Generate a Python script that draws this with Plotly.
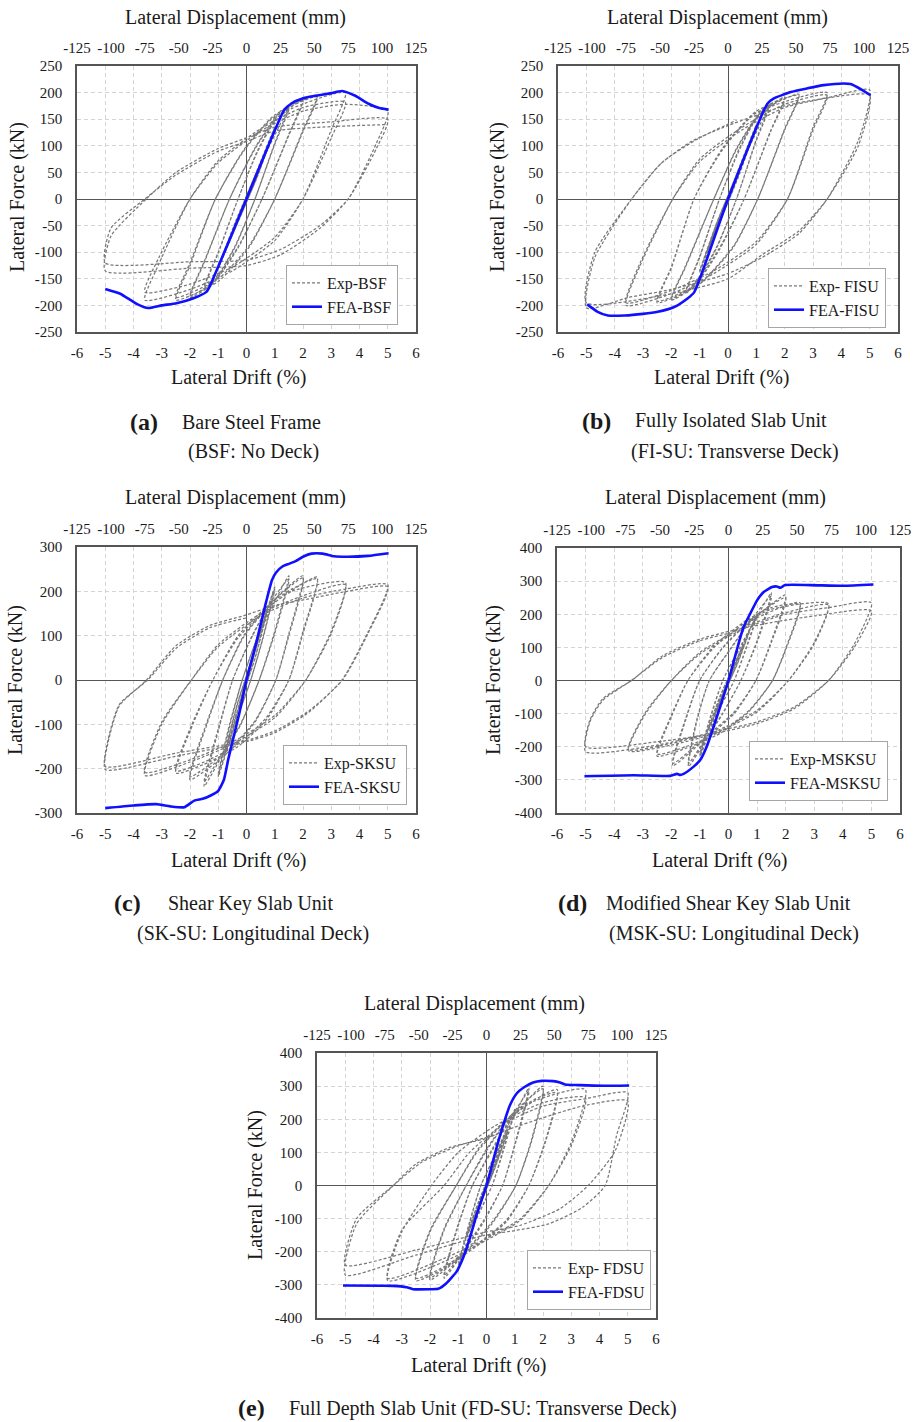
import plotly.graph_objects as go

W, H = 920, 1422
FONT = "Liberation Serif"
TXT = "#1a1a1a"

# ---------------- data (drift %, force kN) ----------------
DRIFT_TICKS = [-6, -5, -4, -3, -2, -1, 0, 1, 2, 3, 4, 5, 6]
DISP_TICKS = [-125, -100, -75, -50, -25, 0, 25, 50, 75, 100, 125]
Y_TICKS_250 = [-250, -200, -150, -100, -50, 0, 50, 100, 150, 200, 250]
Y_TICKS_300 = [-300, -200, -100, 0, 100, 200, 300]
Y_TICKS_400 = [-400, -300, -200, -100, 0, 100, 200, 300, 400]

EXP_A = [(0, 0),
    (0.25, 35), (0.0, 2), (-0.25, -33), (0.0, -2), (0.25, 34), (0.0, 2), (-0.25, -33), (0.0, -2),
    (0.5, 65), (0.05, 6), (-0.5, -63), (-0.05, -6), (0.5, 64), (0.05, 6), (-0.5, -62), (-0.05, -6),
    (0.75, 100), (0.15, 15), (-0.75, -97), (-0.15, -15), (0.75, 98), (0.15, 15), (-0.75, -95), (-0.15, -15),
    (1.0, 135), (0.4, 45), (0.05, 0), (-0.5, -68), (-1.0, -130), (-0.4, -45), (-0.05, 0), (0.5, 68),
    (1.0, 133), (0.4, 44), (0.05, 0), (-0.5, -66), (-1.0, -128), (-0.4, -44), (-0.05, 0), (0.5, 66),
    (1.5, 172), (1.0, 105), (0.3, 0), (-0.4, -90), (-1.0, -145), (-1.5, -168), (-1.0, -102), (-0.3, 0), (0.4, 92), (1.0, 148),
    (1.5, 170), (1.0, 103), (0.3, 0), (-0.4, -88), (-1.0, -142), (-1.5, -165), (-1.0, -100), (-0.3, 0), (0.4, 90), (1.0, 145),
    (2.0, 188), (1.5, 122), (0.55, 0), (-0.3, -92), (-1.2, -160), (-2.0, -185), (-1.5, -120), (-0.6, 0), (0.3, 96), (1.2, 165),
    (2.0, 186), (1.5, 120), (0.55, 0), (-0.3, -90), (-1.2, -157), (-2.0, -182), (-1.5, -118), (-0.6, 0), (0.3, 94), (1.2, 162),
    (2.5, 195), (2.0, 130), (1.0, 0), (0.1, -90), (-1.0, -155), (-2.5, -190), (-2.0, -125), (-1.1, 0), (-0.1, 92), (1.0, 158),
    (2.5, 192), (2.0, 127), (1.0, 0), (0.1, -87), (-1.0, -150), (-2.5, -185), (-2.0, -120), (-1.1, 0), (-0.1, 90), (1.0, 155),
    (3.5, 200), (3.0, 130), (2.0, 0), (1.0, -78), (-0.5, -135), (-2.0, -170), (-3.6, -190), (-3.1, -122), (-2.0, 0), (-1.0, 72), (0.5, 132), (2.0, 172),
    (3.5, 182), (3.0, 115), (2.0, 0), (1.0, -72), (-0.5, -128), (-2.0, -160), (-3.6, -175), (-3.1, -110), (-2.0, 0), (-1.0, 68), (0.5, 128), (2.0, 165), (3.5, 178),
    (5.0, 165), (4.6, 105), (3.6, 0), (2.6, -55), (1.2, -105), (0.0, -125), (-2.0, -130), (-5.0, -135),
    (-4.8, -70), (-3.55, 0), (-2.5, 50), (-1.0, 95), (0.0, 115), (1.0, 135), (3.0, 145), (5.0, 150),
    (4.6, 95), (3.6, 0), (2.6, -50), (1.2, -95), (0.0, -115), (-2.0, -118), (-5.0, -120),
    (-4.8, -55), (-3.6, 0), (-2.5, 45), (-1.0, 90), (0.0, 108), (1.0, 128), (3.0, 136), (5.0, 140)]

EXP_B = [(0, 0),
    (0.25, 36), (0.0, 2), (-0.25, -35), (0.0, -2), (0.25, 35), (0.0, 2), (-0.25, -34), (0.0, -2),
    (0.5, 70), (0.05, 6), (-0.5, -68), (-0.05, -6), (0.5, 69), (0.05, 6), (-0.5, -67), (-0.05, -6),
    (0.75, 105), (0.15, 15), (-0.75, -102), (-0.15, -15), (0.75, 103), (0.15, 15), (-0.75, -100), (-0.15, -15),
    (1.0, 140), (0.4, 48), (0.05, 0), (-0.5, -70), (-1.0, -138), (-0.4, -46), (-0.05, 0), (0.5, 70),
    (1.0, 138), (0.4, 46), (0.05, 0), (-0.5, -69), (-1.0, -135), (-0.4, -45), (-0.05, 0), (0.5, 69),
    (1.5, 180), (1.0, 112), (0.3, 0), (-0.4, -92), (-1.0, -148), (-1.5, -178), (-1.0, -110), (-0.3, 0), (0.4, 95), (1.0, 152),
    (1.5, 178), (1.0, 110), (0.3, 0), (-0.4, -90), (-1.0, -145), (-1.5, -175), (-1.0, -108), (-0.3, 0), (0.4, 92), (1.0, 150),
    (2.0, 192), (1.5, 128), (0.57, 0), (-0.3, -95), (-1.2, -165), (-2.0, -190), (-1.5, -128), (-0.5, 0), (0.3, 95), (1.2, 168),
    (2.0, 190), (1.5, 126), (0.57, 0), (-0.3, -92), (-1.2, -162), (-2.0, -188), (-1.5, -126), (-0.5, 0), (0.3, 93), (1.2, 165),
    (2.5, 197), (2.0, 132), (1.05, 0), (0.2, -90), (-1.0, -160), (-2.5, -195), (-2.0, -130), (-1.2, 0), (-0.2, 95), (1.0, 165),
    (2.5, 195), (2.0, 130), (1.05, 0), (0.2, -88), (-1.0, -158), (-2.5, -192), (-2.0, -128), (-1.2, 0), (-0.2, 92), (1.0, 162),
    (3.5, 200), (3.0, 135), (2.1, 0), (1.0, -85), (-0.5, -140), (-2.0, -178), (-3.6, -200), (-3.1, -125), (-1.95, 0), (-1.0, 75), (0.5, 135), (2.0, 178),
    (3.5, 195), (3.0, 130), (2.1, 0), (1.0, -80), (-0.5, -135), (-2.0, -172), (-3.6, -195), (-3.1, -120), (-1.95, 0), (-1.0, 70), (0.5, 130), (2.0, 172), (3.5, 190),
    (5.0, 205), (4.6, 110), (3.5, 0), (2.5, -65), (1.2, -110), (0.0, -140), (-2.0, -170), (-3.5, -185), (-5.0, -205),
    (-4.7, -110), (-3.4, 0), (-2.4, 65), (-1.3, 108), (0.0, 138), (2.0, 175), (3.5, 190), (5.0, 195),
    (4.6, 100), (3.5, 0), (2.5, -60), (1.2, -105), (0.0, -150), (-2.0, -178), (-5.0, -195),
    (-4.7, -100), (-3.4, 0), (-2.3, 70), (-1.0, 115), (0.3, 148)]

EXP_C = [(0, 0),
    (0.25, 55), (0.0, 3), (-0.25, -55), (0.0, -3), (0.25, 54), (0.0, 3), (-0.25, -54), (0.0, -3),
    (0.5, 110), (0.05, 8), (-0.5, -110), (-0.05, -8), (0.5, 108), (0.05, 8), (-0.5, -108), (-0.05, -8),
    (0.75, 160), (0.3, 50), (0.05, 0), (-0.75, -162), (-0.3, -50), (-0.05, 0), (0.75, 158), (0.3, 48), (0.05, 0), (-0.75, -158), (-0.3, -48), (-0.05, 0),
    (1.0, 210), (0.6, 100), (0.15, 0), (-0.4, -100), (-1.0, -218), (-0.6, -105), (-0.15, 0), (0.4, 100),
    (1.0, 205), (0.6, 98), (0.15, 0), (-0.4, -98), (-1.0, -212), (-0.6, -100), (-0.15, 0), (0.4, 98),
    (1.5, 235), (1.0, 110), (0.45, 0), (-0.2, -100), (-0.9, -175), (-1.5, -240), (-1.0, -115), (-0.49, 0), (0.2, 100), (0.9, 180),
    (1.5, 228), (1.0, 105), (0.45, 0), (-0.2, -98), (-0.9, -170), (-1.5, -230), (-1.0, -110), (-0.49, 0), (0.2, 98), (0.9, 175),
    (2.0, 235), (1.5, 105), (1.04, 0), (0.3, -95), (-0.6, -160), (-2.0, -225), (-1.4, -100), (-0.84, 0), (-0.1, 100), (0.8, 170),
    (2.0, 230), (1.5, 100), (1.04, 0), (0.3, -92), (-0.6, -155), (-2.0, -218), (-1.4, -95), (-0.84, 0), (-0.1, 97), (0.8, 165),
    (2.5, 232), (2.0, 110), (1.5, 0), (0.7, -90), (-0.3, -150), (-1.5, -190), (-2.5, -210), (-1.9, -100), (-1.19, 0), (-0.3, 100), (0.8, 170), (1.6, 205),
    (2.5, 228), (2.0, 105), (1.5, 0), (0.7, -85), (-0.3, -145), (-1.5, -185), (-2.5, -205), (-1.9, -95), (-1.19, 0), (-0.3, 95), (0.8, 165), (1.6, 200),
    (3.5, 220), (3.0, 110), (2.1, 0), (1.0, -85), (-0.5, -145), (-2.0, -185), (-3.6, -215), (-3.0, -100), (-1.95, 0), (-1.0, 80), (0.5, 150), (2.0, 190),
    (3.5, 215), (3.0, 105), (2.1, 0), (1.0, -80), (-0.5, -140), (-2.0, -180), (-3.6, -208), (-3.0, -95), (-1.95, 0), (-1.0, 75), (0.5, 145), (2.0, 185), (3.5, 205),
    (5.0, 215), (4.3, 108), (3.38, 0), (2.2, -73), (1.0, -119), (-0.1, -141), (-2.5, -172), (-5.0, -202),
    (-4.9, -141), (-4.5, -58), (-3.54, 0), (-2.5, 77), (-1.3, 123), (-0.1, 145), (1.0, 168), (2.2, 183), (3.4, 198), (5.0, 210),
    (4.3, 105), (3.4, 0), (2.2, -70), (1.0, -115), (-0.1, -138), (-2.5, -165), (-5.0, -195),
    (-4.9, -135), (-4.5, -55), (-3.5, 0), (-2.48, 72), (-1.3, 118), (0.0, 140)]

EXP_D = [(0, 0),
    (0.25, 55), (0.0, 3), (-0.25, -55), (0.0, -3), (0.25, 54), (0.0, 3), (-0.25, -54), (0.0, -3),
    (0.5, 105), (0.05, 8), (-0.5, -105), (-0.05, -8), (0.5, 103), (0.05, 8), (-0.5, -103), (-0.05, -8),
    (0.75, 155), (0.3, 50), (0.05, 0), (-0.75, -158), (-0.3, -50), (-0.05, 0), (0.75, 152), (0.3, 48), (0.05, 0), (-0.75, -155), (-0.3, -48), (-0.05, 0),
    (1.0, 200), (0.6, 95), (0.2, 0), (-0.4, -100), (-1.0, -230), (-0.6, -105), (-0.2, 0), (0.4, 100),
    (1.0, 195), (0.6, 92), (0.2, 0), (-0.4, -98), (-1.0, -222), (-0.6, -100), (-0.2, 0), (0.4, 98),
    (1.5, 265), (1.0, 120), (0.43, 0), (-0.2, -100), (-0.8, -180), (-1.4, -260), (-1.1, -120), (-0.67, 0), (0.1, 100), (0.8, 185),
    (1.5, 255), (1.0, 115), (0.43, 0), (-0.2, -98), (-0.8, -175), (-1.4, -250), (-1.1, -115), (-0.67, 0), (0.1, 98), (0.8, 180),
    (2.0, 258), (1.5, 120), (0.96, 0), (0.2, -100), (-0.8, -175), (-1.95, -257), (-1.5, -120), (-1.01, 0), (-0.2, 100), (0.8, 185),
    (2.0, 250), (1.5, 115), (0.96, 0), (0.2, -95), (-0.8, -170), (-1.95, -250), (-1.5, -115), (-1.01, 0), (-0.2, 98), (0.8, 180),
    (2.5, 235), (2.1, 120), (1.54, 0), (0.7, -95), (-0.3, -160), (-1.5, -205), (-2.5, -228), (-2.0, -110), (-1.42, 0), (-0.5, 105), (0.6, 180), (1.5, 220),
    (2.5, 230), (2.1, 115), (1.54, 0), (0.7, -92), (-0.3, -155), (-1.5, -200), (-2.5, -222), (-2.0, -105), (-1.42, 0), (-0.5, 100), (0.6, 175), (1.5, 215),
    (3.5, 232), (3.0, 115), (2.1, 0), (1.0, -95), (-0.5, -160), (-2.0, -195), (-3.5, -212), (-2.9, -100), (-2.0, 0), (-1.0, 85), (0.5, 160), (2.0, 205),
    (3.5, 228), (3.0, 110), (2.1, 0), (1.0, -90), (-0.5, -155), (-2.0, -190), (-3.5, -208), (-2.9, -95), (-2.0, 0), (-1.0, 80), (0.5, 155), (2.0, 200), (3.5, 220),
    (5.0, 235), (4.4, 110), (3.5, 0), (2.3, -85), (1.0, -130), (-0.5, -160), (-2.5, -185), (-5.0, -200),
    (-4.85, -120), (-4.4, -55), (-3.39, 0), (-2.3, 75), (-1.0, 125), (0.0, 148), (1.5, 175), (3.0, 195), (5.0, 210),
    (4.4, 100), (3.5, 0), (2.3, -80), (1.0, -125), (-0.5, -155), (-2.5, -195), (-5.0, -215),
    (-4.85, -125), (-4.4, -60), (-3.4, 0), (-2.3, 70), (-1.0, 120), (0.0, 142)]

EXP_E = [(0, 0),
    (0.25, 55), (0.0, 3), (-0.25, -55), (0.0, -3), (0.25, 54), (0.0, 3), (-0.25, -54), (0.0, -3),
    (0.5, 110), (0.05, 8), (-0.5, -110), (-0.05, -8), (0.5, 108), (0.05, 8), (-0.5, -108), (-0.05, -8),
    (0.75, 165), (0.3, 55), (0.05, 0), (-0.75, -165), (-0.3, -55), (-0.05, 0), (0.75, 162), (0.3, 53), (0.05, 0), (-0.75, -162), (-0.3, -53), (-0.05, 0),
    (1.0, 230), (0.6, 110), (0.2, 0), (-0.4, -110), (-1.0, -250), (-0.6, -115), (-0.2, 0), (0.4, 110),
    (1.0, 225), (0.6, 105), (0.2, 0), (-0.4, -105), (-1.0, -240), (-0.6, -110), (-0.2, 0), (0.4, 105),
    (1.5, 295), (1.05, 140), (0.57, 0), (-0.1, -110), (-0.8, -200), (-1.5, -280), (-1.05, -135), (-0.5, 0), (0.2, 110), (0.9, 210),
    (1.5, 285), (1.05, 135), (0.57, 0), (-0.1, -105), (-0.8, -195), (-1.5, -272), (-1.05, -130), (-0.5, 0), (0.2, 105), (0.9, 205),
    (2.0, 300), (1.6, 140), (1.04, 0), (0.2, -115), (-0.8, -205), (-2.0, -285), (-1.5, -135), (-0.72, 0), (0.0, 110), (0.9, 215),
    (2.0, 292), (1.6, 135), (1.04, 0), (0.2, -110), (-0.8, -200), (-2.0, -278), (-1.5, -130), (-0.72, 0), (0.0, 105), (0.9, 210),
    (2.5, 290), (2.1, 140), (1.5, 0), (0.7, -110), (-0.3, -180), (-1.5, -250), (-2.5, -287), (-2.0, -140), (-1.07, 0), (-0.3, 110), (0.7, 200), (1.7, 260),
    (2.5, 280), (2.1, 135), (1.5, 0), (0.7, -105), (-0.3, -175), (-1.5, -245), (-2.5, -280), (-2.0, -135), (-1.07, 0), (-0.3, 105), (0.7, 195), (1.7, 255),
    (3.5, 290), (3.0, 130), (2.2, 0), (1.2, -105), (0.0, -165), (-1.5, -230), (-3.5, -287), (-3.0, -140), (-1.95, 0), (-1.0, 100), (0.3, 180), (2.0, 250),
    (3.5, 265), (3.0, 120), (2.2, 0), (1.2, -100), (0.0, -160), (-1.5, -220), (-3.5, -280), (-3.0, -135), (-1.5, 0), (-0.6, 100), (0.6, 185), (2.0, 240), (3.5, 262),
    (5.0, 280), (4.6, 150), (4.2, 0), (3.4, -66), (2.2, -116), (1.0, -136), (-0.1, -151), (-2.5, -210), (-5.0, -270),
    (-4.6, -116), (-3.3, 0), (-2.5, 65), (-1.3, 115), (-0.1, 140), (1.0, 176), (3.4, 240), (5.0, 255),
    (4.55, 104), (3.6, 0), (2.6, -70), (1.2, -120), (0.0, -140), (-2.5, -195), (-5.0, -240),
    (-4.6, -100), (-3.3, 0), (-2.3, 70), (-1.0, 120), (0.2, 150)]

FEA_A = [(-5.0, -169), (-4.47, -178), (-3.89, -197), (-3.48, -205), (-3.0, -200), (-2.48, -196),
         (-1.9, -187), (-1.43, -175), (-1.31, -165), (0.0, 0), (1.33, 167), (1.6, 180), (1.98, 189),
         (2.45, 194), (3.0, 199), (3.38, 203), (3.85, 194), (4.32, 179), (4.7, 171), (5.03, 168)]
FEA_B = [(-4.97, -198), (-4.6, -212), (-4.24, -219), (-3.65, -219), (-3.0, -216), (-2.48, -212),
         (-1.9, -203), (-1.43, -187), (-1.19, -175), (0.0, 0), (1.39, 179), (1.62, 189), (2.21, 201),
         (2.8, 208), (3.38, 214), (4.09, 217), (4.32, 216), (4.7, 206), (5.03, 195)]
FEA_C = [(-5.0, -289), (-4.0, -283), (-3.2, -280), (-2.7, -285), (-2.2, -287), (-1.85, -272),
         (-1.55, -268), (-1.25, -260), (-1.0, -250), (-0.8, -225), (-0.65, -180), (-0.5, -140),
         (-0.25, -74), (0.0, 0), (0.33, 80), (0.69, 175), (0.9, 225), (1.04, 242), (1.27, 256),
         (1.5, 262), (1.74, 268), (2.0, 278), (2.3, 285), (2.7, 285), (3.1, 279), (3.6, 278),
         (4.3, 280), (5.03, 286)]
FEA_D = [(-5.04, -289), (-3.32, -286), (-2.04, -288), (-1.8, -282), (-1.69, -285), (-1.57, -282),
         (-1.22, -260), (-0.99, -240), (-0.76, -199), (-0.52, -139), (-0.29, -79), (0.0, 0),
         (0.29, 92), (0.53, 162), (0.76, 202), (1.0, 242), (1.23, 267), (1.52, 282), (1.69, 284),
         (1.81, 280), (1.98, 288), (2.86, 288), (4.02, 286), (5.07, 290)]
FEA_E = [(-5.08, -302), (-3.31, -303), (-2.83, -307), (-2.6, -313), (-2.0, -313), (-1.71, -312),
         (-1.42, -295), (-1.06, -260), (-0.83, -219), (-0.59, -159), (-0.35, -89), (0.0, 0),
         (0.35, 112), (0.59, 182), (0.83, 242), (1.06, 277), (1.36, 298), (1.65, 311), (1.95, 316),
         (2.36, 315), (2.6, 311), (2.78, 305), (3.3, 303), (4.13, 301), (5.05, 302)]

NAMES = [("Exp-BSF", "FEA-BSF"), ("Exp- FISU", "FEA-FISU"), ("Exp-SKSU", "FEA-SKSU"),
         ("Exp-MSKSU", "FEA-MSKSU"), ("Exp- FDSU", "FEA-FDSU")]
CAPTIONS = [("(a)", "Bare Steel Frame", "(BSF: No Deck)"),
            ("(b)", "Fully Isolated Slab Unit", "(FI-SU: Transverse Deck)"),
            ("(c)", "Shear Key Slab Unit", "(SK-SU: Longitudinal Deck)"),
            ("(d)", "Modified Shear Key Slab Unit", "(MSK-SU: Longitudinal Deck)"),
            ("(e)", "Full Depth Slab Unit (FD-SU: Transverse Deck)", None)]

# ---------------- layout geometry (pixels) ----------------
LAYOUT = [
    dict(box=(77, 416, 66, 332), yt=Y_TICKS_250, leg=(398, 325), top=(235, 17), bot=(238, 378), ylab=(17, 197),
         cap_lbl=(144, 422), cap_txt=(180, 422), cap2=(253, 452)),
    dict(box=(558, 898, 66, 332), yt=Y_TICKS_250, leg=(886, 328), top=(717, 17), bot=(721, 378), ylab=(497, 197),
         cap_lbl=(596, 421), cap_txt=(633, 421), cap2=(735, 452)),
    dict(box=(77, 416, 547, 813), yt=Y_TICKS_300, leg=(407, 805), top=(235, 498), bot=(238, 860), ylab=(15, 680),
         cap_lbl=(127, 903), cap_txt=(166, 903), cap2=(253, 933)),
    dict(box=(557, 900, 548, 813), yt=Y_TICKS_400, leg=(888, 801), top=(715, 498), bot=(719, 860), ylab=(493, 680),
         cap_lbl=(572, 903), cap_txt=(604, 903), cap2=(734, 933)),
    dict(box=(317, 656, 1053, 1318), yt=Y_TICKS_400, leg=(651, 1310), top=(475, 1003), bot=(478, 1365), ylab=(255, 1185),
         cap_lbl=(252, 1408), cap_txt=(287, 1408), cap2=None),
]
EXPS = [EXP_A, EXP_B, EXP_C, EXP_D, EXP_E]
FEAS = [FEA_A, FEA_B, FEA_C, FEA_D, FEA_E]


def px(x):
    return x / W


def py(y):
    return 1 - y / H


def lab(v):
    return str(v)  # plain hyphen-minus like the original


fig = go.Figure()
annotations = []
lay = dict(width=W, height=H, margin=dict(l=0, r=0, t=0, b=0, pad=0, autoexpand=False),
           paper_bgcolor="white", plot_bgcolor="white", font=dict(family=FONT, color=TXT))

for i in range(5):
    k = i + 1
    sfx = "" if k == 1 else str(k)
    L = LAYOUT[i]
    x0, x1, y0, y1 = L["box"]
    legname = "legend" if k == 1 else f"legend{k}"
    ex, ey = zip(*EXPS[i])
    fx, fy = zip(*FEAS[i])
    fig.add_trace(go.Scatter(x=ex, y=ey, mode="lines", name=NAMES[i][0], xaxis="x" + sfx, yaxis="y" + sfx,
                             line=dict(color="#787878", width=1.25, dash="3px,2px", shape="spline", smoothing=0.6),
                             legend=legname, hoverinfo="skip"))
    fig.add_trace(go.Scatter(x=fx, y=fy, mode="lines", name=NAMES[i][1], xaxis="x" + sfx, yaxis="y" + sfx,
                             line=dict(color="#1010ff", width=2.6, shape="spline", smoothing=0.5),
                             legend=legname, hoverinfo="skip"))
    # empty carrier so the secondary (top, mm) axis gets drawn; it has no visible marks
    fig.add_trace(go.Scatter(x=[DISP_TICKS[0], DISP_TICKS[-1]], y=[None, None], mode="lines",
                             xaxis=f"x{k + 5}", yaxis="y" + sfx, showlegend=False, hoverinfo="skip"))
    common = dict(showline=True, mirror=True, linecolor="#555555", linewidth=1.5,
                  showgrid=True, griddash="4px,3px", gridcolor="#d4d4d4", gridwidth=1,
                  zeroline=True, zerolinecolor="#555555", zerolinewidth=1.4,
                  ticks="outside", tickcolor="rgba(0,0,0,0)",
                  tickfont=dict(family=FONT, size=15, color=TXT), fixedrange=True)
    lay["xaxis" + sfx] = dict(domain=[px(x0), px(x1)], anchor="y" + sfx, range=[-6, 6],
                              tickvals=DRIFT_TICKS, ticktext=[lab(v) for v in DRIFT_TICKS], ticklen=6, **common)
    lay["yaxis" + sfx] = dict(domain=[py(y1), py(y0)], anchor="x" + sfx, range=[L["yt"][0], L["yt"][-1]],
                              tickvals=L["yt"], ticktext=[lab(v) for v in L["yt"]], ticklen=10, **common)
    lay[f"xaxis{k + 5}"] = dict(overlaying="x" + sfx, anchor="y" + sfx, side="top", range=[-125, 125],
                                tickvals=DISP_TICKS, ticktext=[lab(v) for v in DISP_TICKS],
                                showgrid=False, zeroline=False, showline=False, ticks="outside", ticklen=6,
                                tickcolor="rgba(0,0,0,0)", tickfont=dict(family=FONT, size=15, color=TXT),
                                fixedrange=True)
    lx, ly = L["leg"]
    lay[legname] = dict(x=px(lx), y=py(ly), xanchor="right", yanchor="bottom", bgcolor="white",
                        bordercolor="#a6a6a6", borderwidth=1, font=dict(family=FONT, size=16, color=TXT),
                        tracegroupgap=0)
    # titles
    annotations.append(dict(text="Lateral Displacement (mm)", x=px(L["top"][0]), y=py(L["top"][1]),
                            xanchor="center", yanchor="middle", font=dict(size=20)))
    annotations.append(dict(text="Lateral Drift (%)", x=px(L["bot"][0]), y=py(L["bot"][1]),
                            xanchor="center", yanchor="middle", font=dict(size=20)))
    annotations.append(dict(text="Lateral Force (kN)", x=px(L["ylab"][0]), y=py(L["ylab"][1]), textangle=-90,
                            xanchor="center", yanchor="middle", font=dict(size=20)))
    c_lbl, c_txt, c_2 = CAPTIONS[i]
    annotations.append(dict(text=f"<b>{c_lbl}</b>", x=px(L["cap_lbl"][0]), y=py(L["cap_lbl"][1]),
                            xanchor="center", yanchor="middle", font=dict(size=24)))
    annotations.append(dict(text=c_txt, x=px(L["cap_txt"][0]), y=py(L["cap_txt"][1]),
                            xanchor="left", yanchor="middle", font=dict(size=20)))
    if c_2:
        annotations.append(dict(text=c_2, x=px(L["cap2"][0]), y=py(L["cap2"][1]),
                                xanchor="center", yanchor="middle", font=dict(size=20)))

for a in annotations:
    a.update(xref="paper", yref="paper", showarrow=False)
    a["font"].update(family=FONT, color=TXT)
lay["annotations"] = annotations
fig.update_layout(**lay)
# remove the browser's default 8px body margin so the figure fills the 920x1422 window exactly
fig.write_html("out.html", config={"displayModeBar": False, "staticPlot": False},
               post_script="document.body.style.margin='0';document.body.style.padding='0';"
                           "document.body.style.overflow='hidden';")
